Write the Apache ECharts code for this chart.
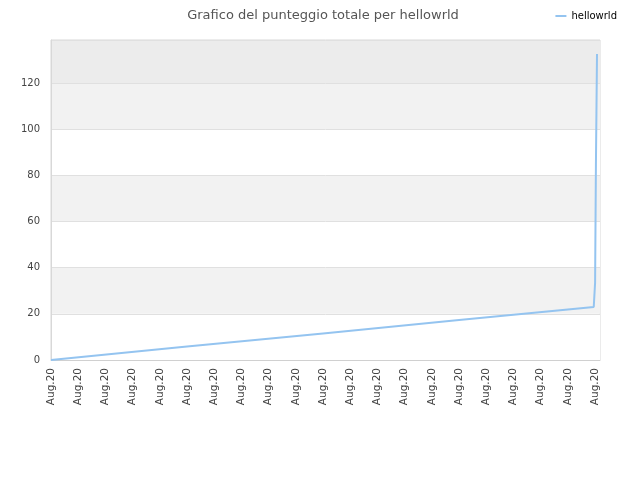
<!DOCTYPE html>
<html><head><meta charset="utf-8">
<script src="https://cdn.jsdelivr.net/npm/echarts@6/dist/echarts.min.js"></script>
<style>html,body{margin:0;padding:0;background:#fff}#c{width:640px;height:480px}</style>
</head><body><div id="c"></div>
<script>
const titleText = 'Grafico del punteggio totale per hellowrld';
const seriesName = 'hellowrld';
// time positions (in tick units) and total score
const times  = [0, 5, 10, 15, 19.95, 20.0, 20.03, 20.07];
const scores = [0, 5.8, 11.5, 17.3, 23.0, 33.5, 84.5, 132.5];
const xTickLabel = 'Aug.20';
const yTicks = [0, 20, 40, 60, 80, 100, 120];

const chart = echarts.init(document.getElementById('c'));
chart.setOption({
  animation: false,
  title: { text: titleText, left: 318, textAlign: 'center', top: 4,
    textStyle: { fontFamily: 'DejaVu Sans', fontSize: 13, fontWeight: 'normal', color: '#555' } },
  legend: { right: 18, top: 6, itemWidth: 11, itemHeight: 2, icon: 'rect',
    textStyle: { fontFamily: 'DejaVu Sans', fontSize: 10, color: '#000' },
    data: [seriesName] },
  grid: { left: 51, right: 40, top: 40, bottom: 120, show: true, borderColor: '#d8d8d8', borderWidth: 1 },
  xAxis: { type: 'value', min: 0, max: 20.18, interval: 1,
    axisLine: { lineStyle: { color: '#d0d0d0' } }, axisTick: { show: false },
    splitLine: { show: false },
    axisLabel: { rotate: 90, fontFamily: 'DejaVu Sans', fontSize: 10.5, color: '#444', margin: 8,
      formatter: v => Math.abs(v - Math.round(v)) < 1e-6 ? xTickLabel : '' } },
  yAxis: { type: 'value', min: 0, max: 138.6, interval: 20,
    axisLine: { show: true, lineStyle: { color: '#d8d8d8' } }, axisTick: { show: false },
    splitLine: { lineStyle: { color: '#e0e0e0' } },
    splitArea: { show: true, areaStyle: { color: ['#ffffff','#f2f2f2','#ffffff','#f2f2f2','#ffffff','#f2f2f2','#ececec'] } },
    axisLabel: { fontFamily: 'DejaVu Sans', fontSize: 10, color: '#444', margin: 11,
      formatter: v => yTicks.includes(v) ? String(v) : '' } },
  series: [{ name: seriesName, type: 'line', data: times.map((t, i) => [t, scores[i]]),
    showSymbol: false, symbol: 'none', lineStyle: { color: '#94c4f0', width: 2 }, itemStyle: { color: '#94c4f0' } }]
});
</script></body></html>
